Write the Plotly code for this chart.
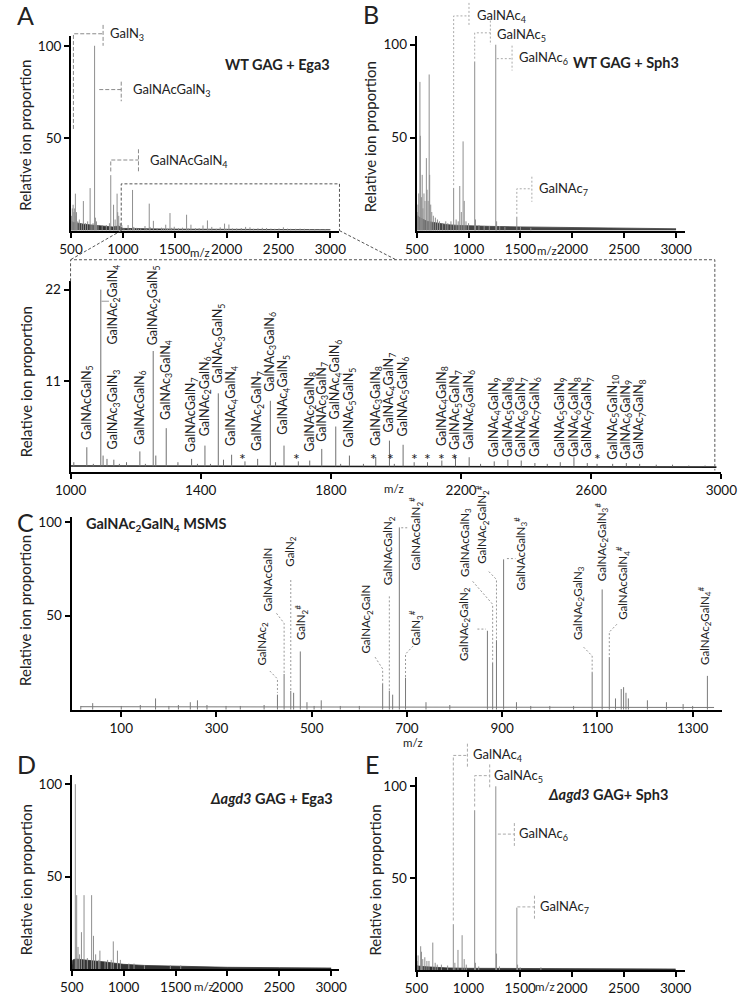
import plotly.graph_objects as go

W, H = 745, 996
FONT = "Lato"

# ====================== DATA ======================
# Panel A + zoom panel: WT GAG + Ega3 (m/z, relative ion proportion)
WT_EGA3_MZ = [505, 512, 520, 528, 535, 542, 548, 553, 565, 580, 600, 619, 640, 660, 684, 700, 712,
              727, 735, 745, 760, 800, 840, 870, 883, 910, 925, 944, 950, 960, 975, 990,
              1010, 1050, 1070, 1093, 1100, 1112, 1133, 1150, 1172, 1213, 1230, 1254, 1262, 1294,
              1330, 1372, 1390, 1413, 1430, 1454, 1470, 1495, 1536, 1575, 1614, 1630, 1656, 1700,
              1735, 1772, 1815, 1830, 1857, 1900, 1938, 1980, 1995, 2022, 2056, 2097, 2141, 2183,
              2225, 2260, 2302, 2344, 2385, 2427, 2465, 2505, 2547, 2588, 2618, 2666, 2708, 2749,
              2800, 2850, 2900, 2950]
WT_EGA3_INT = [8, 12, 14, 10, 12, 20, 8, 10, 5, 6, 4, 16, 4, 5, 23, 3, 4,
               100, 7, 5, 3, 3, 3, 4, 30, 14, 6, 20, 10, 8, 4, 3,
               1.2, 3.0, 1.0, 22, 2.0, 1.6, 1.5, 1.0, 1.2, 2.5, 1.0, 14.6, 2.0, 5.3,
               1.2, 1.6, 1.0, 3.2, 1.0, 9.5, 1.5, 2.1, 1.3, 1.6, 8.6, 1.2, 3.2, 1.3,
               1.4, 2.8, 5.5, 1.0, 2.0, 1.0, 1.8, 3.8, 1.0, 3.3, 1.2, 1.2, 1.4, 2.0,
               1.8, 1.0, 1.3, 1.5, 1.4, 1.1, 1.0, 1.2, 1.8, 1.1, 1.0, 1.0, 1.1, 1.0,
               0.9, 0.9, 0.8, 0.8]
WT_EGA3_NOISE_MZ = [500, 505, 520, 560, 620, 700, 800, 900, 960, 1000, 1500, 2000, 2500, 3000]
WT_EGA3_NOISE_INT = [1.5, 5, 4.5, 4, 3.5, 3, 2.5, 2, 2.5, 1.2, 0.8, 0.7, 0.6, 0.5]
ZOOM_BASE_MZ = [1000, 1500, 2000, 2500, 2985]
ZOOM_BASE_INT = [0.75, 0.7, 0.65, 0.6, 0.6]
# zoom-panel peak annotations: number of GalNAc and GalN residues, and the peak m/z
ZOOM_NAC = [1, 2, 3, 1, 2, 3, 1, 2, 3, 4, 2, 3, 4, 2, 3, 4, 5, 3, 4, 5, 4, 5, 6, 4, 5, 6, 7, 5, 6, 7, 5, 6, 7]
ZOOM_GN = [5, 4, 3, 6, 5, 4, 7, 6, 5, 4, 7, 6, 5, 8, 7, 6, 5, 8, 7, 6, 8, 7, 6, 9, 8, 7, 6, 9, 8, 7, 10, 9, 8]
ZOOM_MZ = [1050, 1093, 1133, 1213, 1254, 1294, 1372, 1413, 1454, 1495, 1575, 1614, 1656, 1735, 1772,
           1815, 1857, 1938, 1980, 2022, 2141, 2183, 2225, 2302, 2344, 2385, 2427, 2505, 2547, 2588,
           2666, 2708, 2749]
STAR_MZ = [1529, 1694, 1932, 1982, 2056, 2097, 2141, 2179, 2618]

# Panel B: WT GAG + Sph3
WT_SPH3_MZ = [505, 512, 520, 531, 535, 545, 553, 560, 570, 580, 593, 600, 610, 620, 625, 635, 645,
              660, 680, 700, 720, 750, 780, 800, 830, 856, 880, 900, 915, 930, 947, 958, 975, 1000,
              1059, 1066, 1100, 1150, 1200, 1262, 1270, 1300, 1350, 1465, 1500, 1600]
WT_SPH3_INT = [10, 14, 20, 80, 51, 18, 30, 12, 20, 16, 39, 22, 16, 84, 30, 14, 10,
               8, 7, 6, 5, 4, 5, 4, 5, 23, 6, 5, 24, 10, 48, 16, 5, 4,
               91, 6, 3, 2.5, 2.5, 100, 5, 2.5, 2, 7.5, 2, 1.5]
WT_SPH3_NOISE_MZ = [500, 510, 530, 560, 600, 650, 700, 800, 900, 1000, 1200, 1500, 2000, 2500, 3000]
WT_SPH3_NOISE_INT = [3, 8, 7, 6, 5, 4.5, 4, 3.2, 2.8, 2.5, 2.3, 2.0, 1.7, 1.4, 1.0]

# Panel C: GalNAc2GalN4 MSMS
MSMS_MZ = [15, 40, 100, 140, 172, 200, 220, 245, 260, 280, 320, 350, 400, 428, 442, 456, 462, 476,
           490, 505, 520, 560, 600, 649, 663, 670, 684, 697, 740, 790, 869, 880, 888, 903, 930, 960,
           1000, 1050, 1089, 1110, 1125, 1138, 1150, 1155, 1160, 1165, 1205, 1245, 1280, 1300, 1331]
MSMS_INT = [2, 3.5, 2, 2.5, 6, 2, 2.5, 4, 5, 2.5, 2, 2, 2.5, 8, 19, 10, 9, 31,
            4, 2, 5, 2, 2, 14, 10, 8, 97, 17, 4, 2.5, 42, 25, 37, 80, 4, 2,
            2, 2, 20, 64, 28, 6, 11, 12, 9, 6, 5, 4, 3, 2, 18]
MSMS_BASE_MZ = [15, 300, 700, 1000, 1345]
MSMS_BASE_INT = [1.6, 1.5, 1.4, 1.3, 1.2]

# Panel D: Δagd3 GAG + Ega3
AGD3_EGA3_MZ = [534, 547, 560, 575, 593, 618, 650, 691, 709, 730, 760, 771, 820, 845, 880, 900, 940,
                968, 1050, 1100, 1200, 1450, 1550]
AGD3_EGA3_INT = [100, 40, 12, 8, 20, 40, 6, 40, 18, 8, 5, 10, 4, 5, 5, 15, 10,
                 5, 3, 3, 2, 2, 2]
AGD3_EGA3_NOISE_MZ = [500, 510, 540, 600, 700, 800, 900, 1000, 1200, 1500, 2000, 2500, 3000]
AGD3_EGA3_NOISE_INT = [1.5, 5, 5.5, 5, 4.5, 4, 3.2, 2.6, 2, 1.5, 1.0, 0.8, 0.6]

# Panel E: Δagd3 GAG + Sph3
AGD3_SPH3_MZ = [505, 515, 540, 548, 560, 580, 600, 620, 657, 680, 700, 740, 800, 855, 870, 900, 940,
                960, 980, 1061, 1068, 1100, 1265, 1272, 1300, 1468, 1475, 1500, 1700]
AGD3_SPH3_INT = [5, 8, 13, 10, 6, 7, 5, 5, 15, 4, 3, 3, 2.5, 25, 4, 11, 19,
                 6, 3, 87, 4, 2, 100, 9, 2, 34, 3, 1.5, 1.5]
AGD3_SPH3_NOISE_MZ = [500, 520, 600, 700, 800, 1000, 1500, 2000, 3000]
AGD3_SPH3_NOISE_INT = [2.5, 2.2, 1.8, 1.4, 1.2, 1.0, 0.8, 0.7, 0.6]

# tick values
TICKS_500_3000 = [500, 1000, 1500, 2000, 2500, 3000]
TICKS_ZOOM_X = [1000, 1400, 1800, 2200, 2600, 3000]
TICKS_ZOOM_Y = [11, 22]
TICKS_MSMS_X = [100, 300, 500, 700, 900, 1100, 1300]
TICKS_Y = [50, 100]

# ====================== LAYOUT GEOMETRY (pixels) ======================
AX = {'A': ('x', 'y'), 'B': ('x2', 'y2'), 'Z': ('x3', 'y3'),
      'C': ('x4', 'y4'), 'D': ('x5', 'y5'), 'E': ('x6', 'y6')}
GEOM = {
    'A': dict(x0=57.5, x1=338, xr=(500, 3088), yb=229, yt=33, yr=(0, 105.4)),
    'B': dict(x0=418.7, x1=699, xr=(500, 3086), yb=229, yt=33, yr=(0, 104.8)),
    'Z': dict(x0=57, x1=737, xr=(1000, 3000), yb=472, yt=280, yr=(0, 23.0)),
    'C': dict(x0=58, x1=738, xr=(-4.5, 1362.3), yb=711, yt=517, yr=(0, 102.6)),
    'D': dict(x0=58.3, x1=337, xr=(500, 3071), yb=972, yt=777, yr=(0, 104.8)),
    'E': dict(x0=418.5, x1=699.3, xr=(500, 3093), yb=973, yt=779, yr=(0, 104.9)),
}
XT = {'A': TICKS_500_3000, 'B': TICKS_500_3000, 'Z': TICKS_ZOOM_X, 'C': TICKS_MSMS_X,
      'D': TICKS_500_3000, 'E': TICKS_500_3000}
YT = {'A': TICKS_Y, 'B': TICKS_Y, 'Z': TICKS_ZOOM_Y, 'C': TICKS_Y, 'D': TICKS_Y, 'E': TICKS_Y}


def P(p, mz, v):
    g = GEOM[p]
    px = g['x0'] + (mz - g['xr'][0]) / (g['xr'][1] - g['xr'][0]) * (g['x1'] - g['x0'])
    py = g['yb'] - (v - g['yr'][0]) / (g['yr'][1] - g['yr'][0]) * (g['yb'] - g['yt'])
    return px / W, 1 - py / H


shapes, annotations = [], []


def poly_paper(pts, color, dash, width=1):
    path = 'M ' + ' L '.join(f'{x:.5f},{y:.5f}' for x, y in pts)
    shapes.append(dict(type='path', path=path, xref='paper', yref='paper', layer='above',
                       line=dict(color=color, width=width, dash=dash)))


def poly(p, pts, color, dash, width=1):
    poly_paper([P(p, a, b) for a, b in pts], color, dash, width)


def ann_paper(x, y, text, size, angle=0, xanchor='left', yanchor='middle', color='#222'):
    annotations.append(dict(x=x, y=y, xref='paper', yref='paper', text=text, showarrow=False,
                            textangle=angle, xanchor=xanchor, yanchor=yanchor, borderpad=0,
                            font=dict(family=FONT, size=size, color=color)))


def ann(p, mz, v, text, size, **kw):
    x, y = P(p, mz, v)
    ann_paper(x, y, text, size, **kw)


def ann_px(px, py, text, size, **kw):
    ann_paper(px / W, 1 - py / H, text, size, **kw)


def sticks(mzs, ints, base=0.0, lo=None):
    xs, ys = [], []
    for m, v in zip(mzs, ints):
        if lo is not None and m < lo:
            continue
        xs += [m, m, None]
        ys += [base, v, None]
    return xs, ys


fig = go.Figure()


def add_sticks(p, mzs, ints, color, width=1, base=0.0, lo=None):
    xs, ys = sticks(mzs, ints, base, lo)
    xa, ya = AX[p]
    fig.add_trace(go.Scatter(x=xs, y=ys, mode='lines', xaxis=xa, yaxis=ya, hoverinfo='skip',
                             line=dict(color=color, width=width)))


def add_noise(p, mzs, ints, color='#333333'):
    xa, ya = AX[p]
    fig.add_trace(go.Scatter(x=mzs, y=ints, mode='lines', fill='tozeroy', fillcolor=color,
                             xaxis=xa, yaxis=ya, hoverinfo='skip', line=dict(color=color, width=0.8)))


def add_line(p, mzs, ints, color, width):
    xa, ya = AX[p]
    fig.add_trace(go.Scatter(x=mzs, y=ints, mode='lines', xaxis=xa, yaxis=ya, hoverinfo='skip',
                             line=dict(color=color, width=width)))


# ---- traces ----
add_noise('A', WT_EGA3_NOISE_MZ, WT_EGA3_NOISE_INT)
add_sticks('A', WT_EGA3_MZ, WT_EGA3_INT, '#8f8f8f')
add_noise('B', WT_SPH3_NOISE_MZ, WT_SPH3_NOISE_INT, '#444444')
add_sticks('B', WT_SPH3_MZ, WT_SPH3_INT, '#8f8f8f')
add_line('Z', ZOOM_BASE_MZ, ZOOM_BASE_INT, '#1a1a1a', 1.6)
add_sticks('Z', WT_EGA3_MZ, WT_EGA3_INT, '#707070', 1, base=0.7, lo=1000)
add_line('C', MSMS_BASE_MZ, MSMS_BASE_INT, '#777777', 1)
add_sticks('C', MSMS_MZ, MSMS_INT, '#7a7a7a')
add_noise('D', AGD3_EGA3_NOISE_MZ, AGD3_EGA3_NOISE_INT)
add_sticks('D', AGD3_EGA3_MZ, AGD3_EGA3_INT, '#8f8f8f')
add_noise('E', AGD3_SPH3_NOISE_MZ, AGD3_SPH3_NOISE_INT)
add_sticks('E', AGD3_SPH3_MZ, AGD3_SPH3_INT, '#8f8f8f')

# ---- axes ----
layout = dict(width=W, height=H, margin=dict(l=0, r=0, t=0, b=0), showlegend=False,
              plot_bgcolor='white', paper_bgcolor='white', font=dict(family=FONT, color='#111'))
for p, (xa, ya) in AX.items():
    g = GEOM[p]
    common = dict(showline=True, linecolor='black', linewidth=2, ticks='outside', ticklen=5,
                  tickwidth=1.5, tickcolor='black', showgrid=False, zeroline=False,
                  fixedrange=True, ticklabeloverflow='allow',
                  tickfont=dict(family=FONT, size=13.5, color='#111'))
    layout['xaxis' + xa[1:]] = dict(domain=[g['x0'] / W, g['x1'] / W], range=list(g['xr']),
                                    anchor=ya, tickvals=XT[p], **common)
    layout['yaxis' + ya[1:]] = dict(domain=[1 - g['yb'] / H, 1 - g['yt'] / H], range=list(g['yr']),
                                    anchor=xa, tickvals=YT[p], **common)
fig.update_layout(**layout)

TITLE_SIZE = 14.5

# ---- panel A annotations ----
LEAD_A = '#8a8a8a'
poly('A', [(523, 55), (523, 106.5), (809, 106.5)], LEAD_A, '4px,2px')
poly('A', [(809, 111.3), (809, 100)], LEAD_A, '4px,2px')
ann('A', 864, 106.5, 'GalN<sub>3</sub>', 13)
poly('A', [(772, 76.3), (984, 76.3)], LEAD_A, '4px,2px')
poly('A', [(984, 80.6), (984, 70)], LEAD_A, '4px,2px')
ann('A', 1086, 76, 'GalNAcGalN<sub>3</sub>', 13)
poly('A', [(883, 32), (883, 38.2), (1150, 38.2)], LEAD_A, '4px,2px')
poly('A', [(1150, 44), (1150, 31.2)], LEAD_A, '4px,2px')
ann('A', 1252, 37.5, 'GalNAcGalN<sub>4</sub>', 13)
ann_px(329, 62, '<b>WT GAG + Ega3</b>', TITLE_SIZE, xanchor='right')

# zoom box + connectors
BOX = '#555555'
poly('A', [(984, 0), (984, 25.3), (3088, 25.3), (3088, 0)], BOX, '3px,2px')
zx0, zy0 = P('Z', 1000, 25.6)
zx1, _ = P('Z', 2980, 25.6)
poly_paper([P('A', 984, 0), (zx0, zy0)], BOX, '3px,2px')
poly_paper([P('A', 3088, 0), P('Z', 2000, 25.6)], BOX, '3px,2px')
poly_paper([P('Z', 1000, 23.0), (zx0, zy0), (zx1, zy0), P('Z', 2980, 0.2)], BOX, '3px,2px')

# ---- panel B annotations ----
LEAD_B = '#aaaaaa'
for path, bar, lab, txt in [
    ([(856, 24.5), (856, 115.5), (1004, 115.5)], (1004, 122.5, 110.2), (1075, 115.5), 'GalNAc<sub>4</sub>'),
    ([(1059, 92.5), (1059, 106.4), (1210, 106.4)], (1210, 113, 100), (1268, 105.3), 'GalNAc<sub>5</sub>'),
    ([(1272, 92.5), (1419, 92.5)], (1419, 99.5, 86.1), (1481, 93), 'GalNAc<sub>6</sub>'),
    ([(1465, 9), (1465, 22.5), (1610, 22.5)], (1610, 29, 15.5), (1665, 22.5), 'GalNAc<sub>7</sub>'),
]:
    poly('B', path, LEAD_B, '2px,2px')
    poly('B', [(bar[0], bar[1]), (bar[0], bar[2])], LEAD_B, '2px,2px')
    ann('B', lab[0], lab[1], txt, 13)
ann_px(694, 60, '<b>WT GAG + Sph3</b>', TITLE_SIZE, xanchor='right')

# ---- zoom panel annotations ----
LABEL_X = list(ZOOM_MZ)
LABEL_X[1] = 1132
LABEL_Y = [3.8, 15.2, 2.6, 3.2, 15.2, 6.2, 2.3, 4.2, 10.6, 3.0, 2.4, 9.6, 4.4, 2.3, 3.5, 6.2, 2.9,
           3.0, 4.7, 4.2, 3.0, 2.6, 2.6, 1.7, 1.7, 1.7, 1.7, 1.7, 1.7, 1.7, 1.4, 1.4, 1.4]


def comp(nac, gn):
    s = 'GalNAc' + (f'<sub>{nac}</sub>' if nac > 1 else '')
    s += 'GalN' + (f'<sub>{gn}</sub>' if gn > 1 else '')
    return s


for nac, gn, lx, ly in zip(ZOOM_NAC, ZOOM_GN, LABEL_X, LABEL_Y):
    ann('Z', lx, ly, comp(nac, gn), 12.5, angle=-90, xanchor='center', yanchor='bottom')
poly('Z', [(1095, 20.6), (1118, 20.6)], '#999999', 'solid')
for m in STAR_MZ:
    ann('Z', m, 1.6, '*', 16, xanchor='center', yanchor='middle')

# ---- panel C annotations ----
LEAD_C = '#999999'
C_LABELS = [
    ('GalNAc<sub>2</sub>', 397, 22.8, [(412, 20.6), (428, 16.4), (428, 9)]),
    ('GalNAcGalN', 407, 51.9, [(426, 51.3), (442, 46), (442, 19)]),
    ('GalN<sub>2</sub>', 456, 75.7, [(456, 69), (456, 10)]),
    ('GalN<sub>2</sub><sup>#</sup>', 477, 36.7, []),
    ('GalNAc<sub>2</sub>GalN', 616, 29.6, [(633, 28), (649, 21.7), (649, 14)]),
    ('GalNAcGalN<sub>2</sub>', 663, 65.6, [(663, 60.3), (663, 10)]),
    ('GalNAcGalN<sub>2</sub><sup>#</sup>', 719, 73.5, [(688, 96.8), (704, 96.8)]),
    ('GalN<sub>3</sub><sup>#</sup>', 719, 33.9, [(713, 33.9), (697, 29.6), (697, 17)]),
    ('GalNAc<sub>2</sub>GalN<sub>2</sub>', 822, 25.4, [(848, 42.9), (866, 42.9)]),
    ('GalNAcGalN<sub>3</sub>', 824, 70.4, [(838, 68.3), (880, 56.1), (880, 25)]),
    ('GalNAc<sub>2</sub>GalN<sub>2</sub><sup>#</sup>', 858, 77.2, [(872, 73.5), (888, 69.3), (888, 37)]),
    ('GalNAcGalN<sub>3</sub><sup>#</sup>', 938, 63, [(910, 80.4), (928, 80.4)]),
    ('GalNAc<sub>2</sub>GalN<sub>3</sub>', 1059, 36.5, [(1071, 33.3), (1089, 28.6), (1089, 20)]),
    ('GalNAc<sub>2</sub>GalN<sub>3</sub><sup>#</sup>', 1109, 67.7, []),
    ('GalNAcGalN<sub>4</sub><sup>#</sup>', 1153, 47.1, [(1141, 45.5), (1125, 41.3), (1125, 28)]),
    ('GalNAc<sub>2</sub>GalN<sub>4</sub><sup>#</sup>', 1326, 23.3, []),
]
for txt, lx, ly, path in C_LABELS:
    ann('C', lx, ly, txt, 11.5, angle=-90, xanchor='center', yanchor='bottom')
    if path:
        poly('C', path, LEAD_C, '2px,2px')
ann_px(72, 525, '<b>GalNAc<sub>2</sub>GalN<sub>4</sub> MSMS</b>', TITLE_SIZE)

# ---- panel D / E annotations ----
ann_px(332, 800, '<b><i>Δagd3</i> GAG + Ega3</b>', TITLE_SIZE, xanchor='right')
LEAD_E = '#aaaaaa'
for path, bar, lab, txt in [
    ([(855, 27), (855, 116.8), (991, 116.8)], (991, 123.2, 109.7), (1031, 116.8), 'GalNAc<sub>4</sub>'),
    ([(1061, 89), (1061, 105.8), (1206, 105.8)], (1206, 111.9, 99.5), (1234, 105.8), 'GalNAc<sub>5</sub>'),
    ([(1285, 74), (1444, 74)], (1444, 80, 67.6), (1483, 74), 'GalNAc<sub>6</sub>'),
    ([(1473, 34.4), (1638, 34.4)], (1638, 40.5, 27.6), (1677, 34.4), 'GalNAc<sub>7</sub>'),
]:
    poly('E', path, LEAD_E, '3px,2px')
    poly('E', [(bar[0], bar[1]), (bar[0], bar[2])], LEAD_E, '3px,2px')
    ann('E', lab[0], lab[1], txt, 13)
ann_px(682, 796, '<b><i>Δagd3</i> GAG+ Sph3</b>', TITLE_SIZE, xanchor='right')

# ---- panel letters, axis titles, m/z ----
for letter, px, py in [('A', 0, 12), ('B', 362, 11), ('C', 0, 522), ('D', 0, 766), ('E', 364, 766)]:
    ann_px(px, py, letter, 25)
for px, py in [(10, 133), (370, 135), (10, 381), (10, 611), (10, 882), (375, 882)]:
    ann_px(px, py, 'Relative ion proportion', 15, angle=-90, xanchor='center', yanchor='middle')
for px, py in [(192, 251), (555, 249), (395, 488), (415, 744), (196, 989), (553, 989)]:
    ann_px(px, py, 'm/z', 11.5, xanchor='center')

fig.update_layout(shapes=shapes, annotations=annotations)
fig.write_html("out.html", config={'displayModeBar': False},
               post_script="document.body.style.margin='0px';document.body.style.overflow='hidden';")
